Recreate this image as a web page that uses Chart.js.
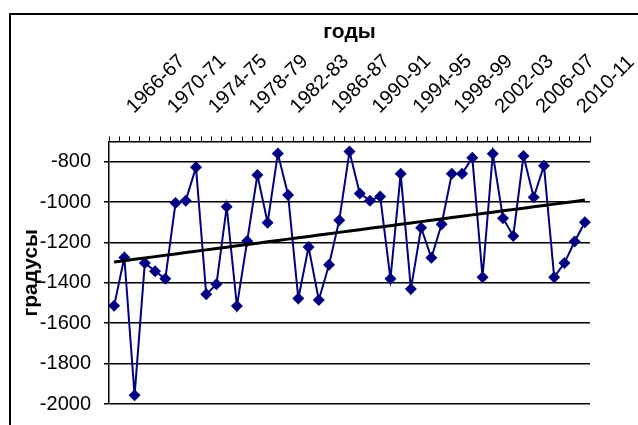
<!DOCTYPE html>
<html>
<head>
<meta charset="utf-8">
<script src="https://cdn.jsdelivr.net/npm/chart.js@4.4.1/dist/chart.umd.min.js"></script>
<style>
  html, body { margin: 0; padding: 0; background: #fff; overflow: hidden; }
  #wrap { position: relative; width: 638px; height: 425px; overflow: hidden; }
  #wrap canvas { position: absolute; left: 0; top: 0; }
  #frame { position: absolute; left: 9px; top: 13px; width: 700px; height: 500px;
           border: 2px solid #000; box-sizing: border-box; pointer-events: none; }
</style>
</head>
<body>
<div id="wrap">
  <canvas id="chart" width="638" height="425"></canvas>
  <div id="frame"></div>
</div>
<script>
// Heating seasons shown along the top axis
const seasons = [
  '1966-67', '1967-68', '1968-69', '1969-70', '1970-71', '1971-72', '1972-73', '1973-74',
  '1974-75', '1975-76', '1976-77', '1977-78', '1978-79', '1979-80', '1980-81', '1981-82',
  '1982-83', '1983-84', '1984-85', '1985-86', '1986-87', '1987-88', '1988-89', '1989-90',
  '1990-91', '1991-92', '1992-93', '1993-94', '1994-95', '1995-96', '1996-97', '1997-98',
  '1998-99', '1999-00', '2000-01', '2001-02', '2002-03', '2003-04', '2004-05', '2005-06',
  '2006-07', '2007-08', '2008-09', '2009-10', '2010-11', '2011-12', '2012-13'
];

// Sum of degrees for each season
const degrees = [
  -1514, -1274, -1957, -1302, -1342, -1380, -1005, -993,
  -828, -1457, -1407, -1023, -1515, -1193, -866, -1102,
  -760, -965, -1478, -1222, -1485, -1310, -1090, -750,
  -957, -993, -972, -1380, -860, -1430, -1127, -1276,
  -1110, -860, -860, -780, -1372, -761, -1080, -1168,
  -772, -976, -820, -1372, -1302, -1195, -1100
];

// Value axis labels
const yTicks = [-2000, -1800, -1600, -1400, -1200, -1000, -800];

// Every fourth season gets a label
const labelStep = 4;

// Linear least-squares trend through the series
const n = degrees.length;
const xMean = (n - 1) / 2;
const yMean = degrees.reduce((a, b) => a + b, 0) / n;
let sxy = 0, sxx = 0;
degrees.forEach((v, i) => { sxy += (i - xMean) * (v - yMean); sxx += (i - xMean) * (i - xMean); });
const slope = sxy / sxx;
const trend = degrees.map((_, i) => yMean + slope * (i - xMean));

const FAMILY = '"Liberation Sans", Arial, sans-serif';

new Chart(document.getElementById('chart'), {
  type: 'line',
  data: {
    labels: seasons,
    datasets: [
      {
        label: 'тренд',
        data: trend,
        borderColor: '#000000',
        borderWidth: 3,
        pointRadius: 0,
        tension: 0,
        order: 0
      },
      {
        label: 'градусы',
        data: degrees,
        borderColor: '#000080',
        borderWidth: 2,
        tension: 0,
        pointStyle: 'rectRot',
        pointRadius: 6,
        pointBackgroundColor: '#000080',
        pointBorderColor: '#000080',
        pointBorderWidth: 0,
        order: 1
      }
    ]
  },
  options: {
    responsive: false,
    animation: false,
    layout: { padding: { left: 10, top: 14, right: 48, bottom: 21 } },
    plugins: { legend: { display: false }, tooltip: { enabled: false } },
    scales: {
      x: {
        position: 'top',
        offset: true,
        grid: { offset: true, drawOnChartArea: false, drawTicks: true, tickLength: 5, color: '#000', lineWidth: 1 },
        border: { display: true, color: '#000', width: 1.5 },
        ticks: {
          autoSkip: false,
          minRotation: 45,
          maxRotation: 45,
          labelOffset: 33,
          padding: 18,
          color: '#000',
          font: { family: FAMILY, size: 20 },
          callback: (v, i) => (i % labelStep === 0 ? seasons[i] : '')
        },
        title: {
          display: true,
          text: 'годы',
          color: '#000',
          font: { family: FAMILY, size: 21, weight: 'bold' },
          padding: { top: 6, bottom: 0 }
        },
        afterCalculateLabelRotation: (s) => { s.labelRotation = 45; },
        afterFit: (s) => { s.height = 127.5; s.paddingLeft = 0; s.paddingRight = 0; }
      },
      y: {
        min: -2000,
        max: -700,
        afterBuildTicks: (s) => { s.ticks = yTicks.map((v) => ({ value: v })); },
        grid: { color: '#000', lineWidth: 1.5, tickLength: 5 },
        border: { display: true, color: '#000', width: 1.5 },
        ticks: {
          color: '#000',
          padding: 13,
          font: { family: FAMILY, size: 20 },
          callback: (v) => String(v)
        },
        title: {
          display: true,
          text: 'градусы',
          color: '#000',
          font: { family: FAMILY, size: 21, weight: 'bold' },
          padding: { top: 9, bottom: 0 }
        },
        afterFit: (s) => { s.width = 99; s.paddingTop = 0; s.paddingBottom = 0; }
      }
    }
  }
});
</script>
</body>
</html>
